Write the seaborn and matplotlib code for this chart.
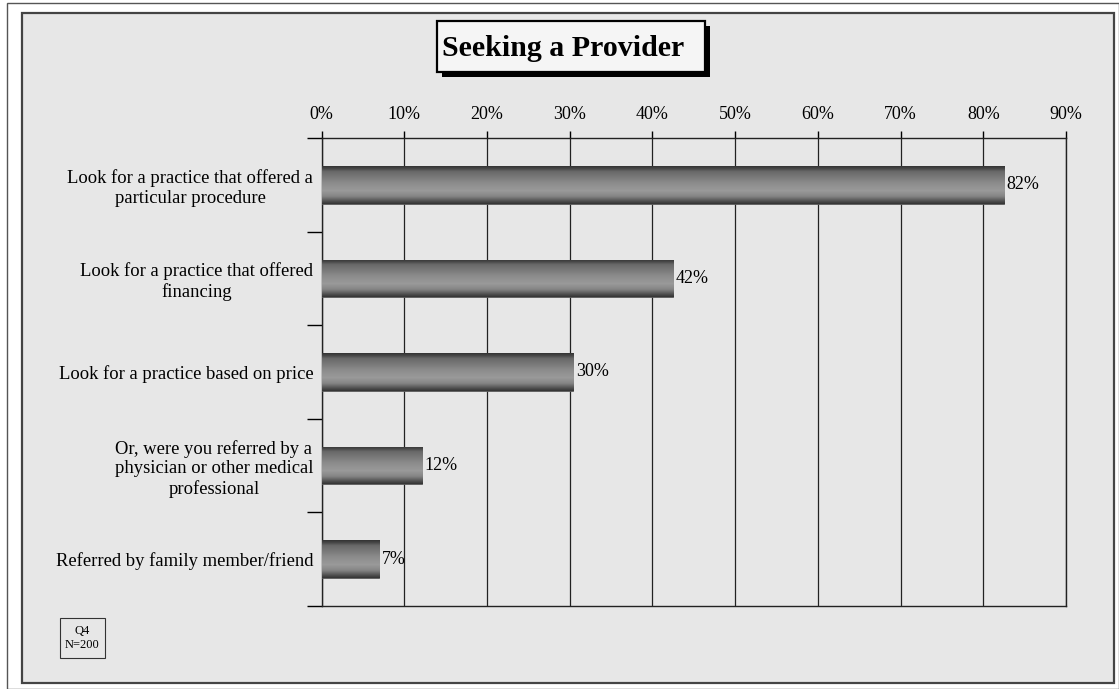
import numpy as np
import pandas as pd
import matplotlib
matplotlib.use("Agg")
import matplotlib.pyplot as plt
from matplotlib.patches import Rectangle
from matplotlib.colors import LinearSegmentedColormap
import seaborn as sns

# ---- data ----
categories = [
    "Look for a practice that offered a\nparticular procedure",
    "Look for a practice that offered\nfinancing",
    "Look for a practice based on price",
    "Or, were you referred by a\nphysician or other medical\nprofessional",
    "Referred by family member/friend",
]
values = [82.5, 42.5, 30.4, 12.1, 7.0]
value_labels = ["82%", "42%", "30%", "12%", "7%"]
xticks = [0, 10, 20, 30, 40, 50, 60, 70, 80, 90]
xtick_labels = [f"{t}%" for t in xticks]
title = "Seeking a Provider"
note = "Q4\nN=200"

W, H = 1119, 689
sns.set_theme(style="white")
plt.rcParams["font.family"] = ["Liberation Serif", "DejaVu Serif"]
plt.rcParams["text.color"] = "black"
plt.rcParams["xtick.color"] = "black"
plt.rcParams["ytick.color"] = "black"
plt.rcParams["xtick.labelcolor"] = "black"
plt.rcParams["ytick.labelcolor"] = "black"

fig = plt.figure(figsize=(W / 100, H / 100), dpi=100)
fig.patch.set_facecolor("white")

def fx(x):
    return x / W

def fy(y):
    return 1 - y / H

# outer thin border and inner textured frame
fig.add_artist(Rectangle((fx(7), fy(689)), fx(1119) - fx(7), fy(3) - fy(689),
                         transform=fig.transFigure, facecolor="white",
                         edgecolor="#555555", linewidth=1.0, zorder=-2))
fig.add_artist(Rectangle((fx(22), fy(683)), fx(1114) - fx(22), fy(13) - fy(683),
                         transform=fig.transFigure, facecolor="#e7e7e7",
                         edgecolor="#444444", linewidth=1.6, zorder=-1))

ax = fig.add_axes([fx(321.5), fy(606), fx(1066) - fx(321.5), fy(138) - fy(606)])
ax.set_zorder(2)
ax.set_facecolor("none")

df = pd.DataFrame({"category": categories, "value": values})
sns.barplot(data=df, x="value", y="category", orient="h", width=0.4,
            color="#888888", ax=ax, zorder=3, saturation=1)

# cylinder-like gradient on each bar
grad_cmap = LinearSegmentedColormap.from_list("cyl", [
    (0.00, "#333333"), (0.07, "#484848"), (0.14, "#686868"),
    (0.45, "#8c8c8c"), (0.65, "#9a9a9a"), (0.80, "#848484"),
    (0.90, "#5a5a5a"), (1.00, "#333333")])
grad = np.linspace(0, 1, 256).reshape(-1, 1)
for p in list(ax.patches):
    x0, y0 = p.get_x(), p.get_y()
    w, h = p.get_width(), p.get_height()
    im = ax.imshow(grad, cmap=grad_cmap, aspect="auto",
                   extent=(x0, x0 + w, y0 + h, y0), origin="upper",
                   zorder=4, interpolation="bilinear")
    im.set_clip_path(p)
    p.set_edgecolor("#555555")
    p.set_linewidth(0.6)

ax.set_xlim(0, 90)
ax.set_ylim(4.5, -0.5)

# value labels
for i, (v, lab) in enumerate(zip(values, value_labels)):
    ax.text(v + 0.35, i, lab, va="center", ha="left", fontsize=13,
            color="black", zorder=6)

# axes styling
ax.xaxis.tick_top()
ax.set_xticks(xticks)
ax.set_xticklabels(xtick_labels, fontsize=13)
ax.tick_params(axis="x", which="major", direction="out", length=5, width=1,
               color="black", pad=6, top=True, bottom=False, labeltop=True,
               labelbottom=False, labelcolor="black")
ax.set_yticks(range(len(categories)))
ax.set_yticklabels(categories, fontsize=13.4, multialignment="center",
                   color="black")
ax.tick_params(axis="y", which="major", length=0, pad=6)
ax.set_yticks([-0.5, 0.5, 1.5, 2.5, 3.5, 4.5], minor=True)
ax.tick_params(axis="y", which="minor", direction="out", length=11,
               width=1, color="black", left=True)
ax.grid(axis="x", color="#222222", linewidth=0.9, zorder=1)
ax.set_axisbelow(True)
for s in ax.spines.values():
    s.set_visible(True)
    s.set_color("#222222")
    s.set_linewidth(1.0)
ax.set_xlabel("")
ax.set_ylabel("")

# title box with shadow
fig.add_artist(Rectangle((fx(442), fy(77)), fx(710) - fx(442), fy(26) - fy(77),
                         transform=fig.transFigure, facecolor="black",
                         edgecolor="black", linewidth=0, zorder=5))
fig.add_artist(Rectangle((fx(437), fy(72)), fx(705) - fx(437), fy(21) - fy(72),
                         transform=fig.transFigure, facecolor="#f5f5f5",
                         edgecolor="black", linewidth=1.6, zorder=6))
fig.text(fx(563), fy(49), title, ha="center", va="center", fontsize=21.5,
         fontweight="bold", color="black", zorder=7)

# Q4 note box
fig.add_artist(Rectangle((fx(60), fy(658)), fx(105) - fx(60), fy(618) - fy(658),
                         transform=fig.transFigure, facecolor="none",
                         edgecolor="#333333", linewidth=0.8, zorder=6))
fig.text(fx(82.5), fy(638), note, ha="center", va="center", fontsize=9,
         linespacing=1.3, color="black", zorder=7)

fig.savefig("out.png", dpi=100, facecolor=fig.get_facecolor())
